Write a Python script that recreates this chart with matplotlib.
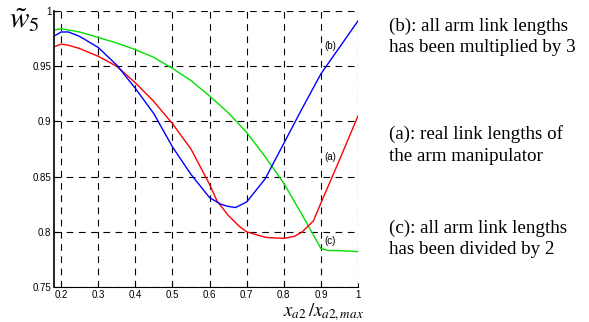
import matplotlib.pyplot as plt

# values
x_b = [0.185, 0.2, 0.22, 0.25, 0.3, 0.35, 0.4, 0.45, 0.5, 0.55, 0.6, 0.63, 0.65, 0.67, 0.7, 0.75, 0.8, 0.85, 0.9, 0.95, 1.0]
w_b = [0.978, 0.981, 0.981, 0.977, 0.967, 0.951, 0.930, 0.907, 0.877, 0.852, 0.831, 0.825, 0.823, 0.822, 0.827, 0.848, 0.880, 0.912, 0.943, 0.967, 0.991]

x_a = [0.185, 0.2, 0.22, 0.25, 0.3, 0.35, 0.4, 0.45, 0.5, 0.55, 0.6, 0.62, 0.65, 0.68, 0.7, 0.75, 0.8, 0.83, 0.85, 0.88, 0.9, 0.95, 1.0]
w_a = [0.968, 0.970, 0.969, 0.966, 0.959, 0.950, 0.935, 0.918, 0.898, 0.875, 0.843, 0.828, 0.815, 0.805, 0.800, 0.795, 0.794, 0.796, 0.800, 0.810, 0.826, 0.865, 0.905]

x_c = [0.185, 0.2, 0.25, 0.3, 0.35, 0.4, 0.45, 0.5, 0.55, 0.6, 0.65, 0.7, 0.75, 0.8, 0.85, 0.87, 0.9, 0.92, 0.95, 1.0]
w_c = [0.983, 0.984, 0.981, 0.976, 0.971, 0.965, 0.958, 0.948, 0.937, 0.923, 0.908, 0.890, 0.868, 0.844, 0.815, 0.803, 0.785, 0.783, 0.783, 0.782]

x_ticks = [0.2, 0.3, 0.4, 0.5, 0.6, 0.7, 0.8, 0.9, 1.0]
tick_text = ['0.2', '0.3', '0.4', '0.5', '0.6', '0.7', '0.8', '0.9', '1']
y_ticks = [0.75, 0.8, 0.85, 0.9, 0.95, 1.0]
y_text = ['0.75', '0.8', '0.85', '0.9', '0.95', '1']

notes = [
    "(b): all arm link lengths\nhas been multiplied by 3",
    "(a): real link lengths of\nthe arm manipulator",
    "(c): all arm link lengths\nhas been divided by 2",
]

fig = plt.figure(figsize=(5.89, 3.22), dpi=100)
ax = fig.add_axes([54 / 589, 1 - 287 / 322, 304 / 589, 276 / 322])

ax.plot(x_c, w_c, color='#00e000', lw=1)
ax.plot(x_a, w_a, color='#ff0000', lw=1)
ax.plot(x_b, w_b, color='#0000ff', lw=1)

ax.set_xlim(0.181, 1.0)
ax.set_ylim(0.75, 1.0)
ax.set_xticks(x_ticks)
ax.set_xticklabels(tick_text)
ax.set_yticks(y_ticks)
ax.set_yticklabels(y_text)
ax.tick_params(direction='in', length=3, labelsize=7, pad=2)
for lab in ax.get_xticklabels() + ax.get_yticklabels():
    lab.set_family('Liberation Sans')
ax.grid(True, color='black', linestyle=(0, (6, 5)), lw=0.8)
ax.spines['top'].set_visible(False)
ax.spines['right'].set_visible(False)
ax.spines['left'].set_linewidth(1.2)

ax.text(0.91, 0.966, '(b)', fontsize=7, family='Liberation Sans')
ax.text(0.91, 0.865, '(a)', fontsize=7, family='Liberation Sans')
ax.text(0.91, 0.789, '(c)', fontsize=7, family='Liberation Sans')

fig.text(9 / 589, 1 - 28 / 322, r'$\tilde{w}_5$', fontsize=21,
         math_fontfamily='stix', va='baseline')
fig.text(323 / 589, 1 - 316 / 322, r'$x_{a2}\,/x_{a2,max}$', fontsize=13.5,
         math_fontfamily='stix', ha='center', va='baseline')

for i, s in enumerate(notes):
    fig.text(389 / 589, 1 - [37, 145, 239][i] / 322, s, fontsize=13.7,
             family='Liberation Serif', va='center', linespacing=1.35)

fig.savefig('out.png', dpi=100)
